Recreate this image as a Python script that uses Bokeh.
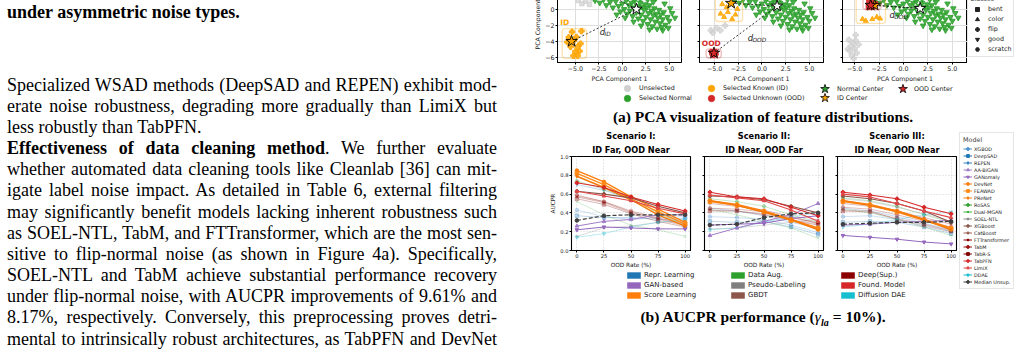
from bokeh.plotting import figure
from bokeh.layouts import row, column
from bokeh.models import (Div, Legend, LegendItem, BoxAnnotation, Title, FixedTicker,
                          CustomJSTickFormatter, PrintfTickFormatter, Range1d)
from bokeh.core.properties import value
from bokeh.embed import file_html
from bokeh.resources import INLINE

SANS = "DejaVu Sans"
SERIF = "Liberation Serif"
INK = "#1a1a1a"
NAN = float("nan")  # legend proxies carry one empty point so their swatches are drawn

# ------------------------------------------------------------------ body text
CAPTION_TAIL = "under asymmetric noise types."
BODY_LINES = [
    "Specialized WSAD methods (DeepSAD and REPEN) exhibit mod-",
    "erate noise robustness, degrading more gradually than LimiX but",
    "less robustly than TabPFN.",
    "<b>Effectiveness of data cleaning method</b>. We further evaluate",
    "whether automated data cleaning tools like Cleanlab [36] can mit-",
    "igate label noise impact. As detailed in Table 6, external filtering",
    "may significantly benefit models lacking inherent robustness such",
    "as SOEL-NTL, TabM, and FTTransformer, which are the most sen-",
    "sitive to flip-normal noise (as shown in Figure 4a). Specifically,",
    "SOEL-NTL and TabM achieve substantial performance recovery",
    "under flip-normal noise, with AUCPR improvements of 9.61% and",
    "8.17%, respectively. Conversely, this preprocessing proves detri-",
    "mental to intrinsically robust architectures, as TabPFN and DevNet",
]
PARAGRAPH_LAST = {2}

# ------------------------------------------------------------------ PCA data
NORMAL_X = [-2.9, -2.4, -2.0, -1.7, -1.3, -1.0, -0.7, -0.4, -0.2, 0.0, 0.2, 0.4, 0.5, 0.7, 0.8, 1.0,
            1.1, 1.2, 1.3, 1.5, 1.6, 1.7, 1.8, 1.9, 2.0, 2.1, 2.2, 2.3, 2.4, 2.5, 2.6, 2.7, 2.8, 2.9,
            3.0, 3.1, 3.2, 3.3, 3.4, 3.5, 3.6, 3.7, 3.8, 3.9, 4.0, 4.1, 4.2, 4.3, 4.4, 4.6, 4.8, 5.0,
            5.3, 5.6, 4.3, 0.3, 0.9, 1.4, 2.2, 2.7, 3.3, -0.5, 0.6, 1.8, 2.4, 3.0, 3.6, 4.5, -1.5,
            -0.9, 0.1, 1.2, 0.3, -0.6, 2.0, 2.9, 5.1, 4.9, 1.9, 0.6]
NORMAL_Y = [1.2, 0.9, 1.3, 0.6, 1.0, 0.3, 1.1, 0.5, -0.2, 0.8, 0.1, 1.2, -0.5, 0.6, -0.1, 0.9,
            -0.8, 0.3, 1.1, -0.3, 0.5, -1.1, 0.2, 0.9, -0.6, 0.4, -1.4, 0.0, 0.7, -0.9, 0.3, -1.8,
            -0.4, 0.6, -1.2, -0.1, -2.1, -0.7, 0.2, -1.5, -0.5, -2.4, -1.0, 0.0, -1.7, -0.6, -2.2,
            -1.2, -0.3, -1.9, -0.9, -1.4, -0.4, -1.0, -2.6, 1.9, 2.3, 1.6, 1.8, 1.3, 1.0, 2.2, 3.0,
            2.7, 3.4, 2.1, 1.5, 0.8, 1.8, 2.6, 3.6, -1.5, -1.0, -0.6, -2.0, -2.5, 0.2, -2.3, 1.4, 1.5]

# Scenario I
S1_UNSEL_X = [-4.7, -4.3, -3.9, -3.5, -4.1, -3.7, -4.5, -3.2, -4.0, -3.6]
S1_UNSEL_Y = [1.2, 0.8, 1.1, 0.7, 1.6, 2.0, 2.3, 1.4, 2.8, 3.1]
S1_ID_X = [-5.35, -4.35, -5.7, -4.9, -4.45, -5.5, -4.75, -5.0, -4.55, -5.2, -4.75, -5.85, -5.15]
S1_ID_Y = [-2.8, -2.7, -3.5, -3.45, -4.3, -4.7, -4.7, -5.3, -5.25, -5.85, -5.85, -4.1, -3.9]
S1_OOD_X = [-2.9, -2.3, -2.6, -2.0, -3.1]
S1_OOD_Y = [2.4, 2.9, 3.3, 2.5, 2.8]
S1_CENTERS = {"normal": (1.5, 0.1), "id": (-5.4, -4.0), "ood": (-2.5, 2.6)}

# Scenario II
S2_UNSEL_X = [-5.4, -4.4, -5.2, -4.8, -3.9, -5.6, -4.6]
S2_UNSEL_Y = [-2.6, -2.6, -2.9, -2.3, -2.0, 2.2, 2.9]
S2_ID_X = [-4.37, -3.6, -2.8, -4.0, -3.15, -3.74, -2.6, -4.2, -3.9, -3.0, -4.3, -2.7]
S2_ID_Y = [-0.48, -0.28, -0.6, -0.9, -1.15, 0.33, 0.12, 0.73, 1.5, 1.9, 2.2, 2.5]
S2_OOD_X = [-5.3, -4.9, -5.1, -4.85, -5.35]
S2_OOD_Y = [-5.6, -5.3, -5.8, -5.65, -5.3]
S2_CENTERS = {"normal": (1.6, 0.5), "id": (-3.25, 0.85), "ood": (-5.07, -5.5)}

# Scenario III
S3_UNSEL_X = [-5.6, -5.2, -4.9, -5.4, -5.0, -5.5, -4.8, -5.3, -5.1, -4.6, -5.7, -4.9]
S3_UNSEL_Y = [-3.8, -4.2, -3.9, -4.6, -4.9, -5.2, -5.5, -5.8, -6.2, -4.4, -5.0, -3.2]
S3_ID_X = [-4.2, -3.87, -3.2, -2.74, -2.4, -3.6, -2.9, -4.3, -3.3]
S3_ID_Y = [-1.17, -1.4, -1.17, -0.9, -1.1, 1.8, 2.3, 2.0, 2.8]
S3_OOD_X = [-3.6, -3.1, -3.3, -2.85, -3.55]
S3_OOD_Y = [0.35, 0.45, 0.9, 0.75, 1.1]
S3_CENTERS = {"normal": (1.7, 0.2), "id": (-2.95, 0.6), "ood": (-3.36, 0.6)}

# ------------------------------------------------------------------ AUCPR data
OOD_RATE = [0, 25, 50, 75, 100]
MODELS = ["XGBOD", "DeepSAD", "REPEN", "AA-BiGAN", "GANomaly", "DevNet", "FEAWAD", "PReNet",
          "RoSAS", "Dual-MGAN", "SOEL-NTL", "XGBoost", "CatBoost", "FTTransformer", "TabM",
          "TabR-S", "TabPFN", "LimiX", "DDAE", "Median Unsup."]
FAMILIES = ["Repr. Learning", "GAN-based", "Score Learning", "Data Aug.", "Pseudo-Labeling",
            "GBDT", "Deep(Sup.)", "Found. Model", "Diffusion DAE"]

S1_AUCPR = {
    "XGBOD": [0.43, 0.36, 0.33, 0.35, 0.36], "DeepSAD": [0.37, 0.35, 0.35, 0.33, 0.34],
    "REPEN": [0.70, 0.64, 0.55, 0.41, 0.31], "AA-BiGAN": [0.26, 0.31, 0.33, 0.38, 0.38],
    "GANomaly": [0.22, 0.25, 0.24, 0.23, 0.23], "DevNet": [0.85, 0.73, 0.57, 0.44, 0.30],
    "FEAWAD": [0.82, 0.70, 0.55, 0.41, 0.28], "PReNet": [0.79, 0.67, 0.54, 0.38, 0.26],
    "RoSAS": [0.74, 0.65, 0.54, 0.39, 0.28], "Dual-MGAN": [0.52, 0.38, 0.27, 0.22, 0.15],
    "SOEL-NTL": [0.15, 0.24, 0.26, 0.30, 0.31], "XGBoost": [0.63, 0.60, 0.56, 0.47, 0.40],
    "CatBoost": [0.58, 0.52, 0.41, 0.33, 0.26], "FTTransformer": [0.57, 0.51, 0.40, 0.34, 0.27],
    "TabM": [0.59, 0.52, 0.42, 0.35, 0.28], "TabR-S": [0.55, 0.49, 0.39, 0.31, 0.25],
    "TabPFN": [0.72, 0.67, 0.57, 0.49, 0.42], "LimiX": [0.63, 0.58, 0.53, 0.45, 0.39],
    "DDAE": [0.14, 0.18, 0.25, 0.30, 0.33], "Median Unsup.": [0.32, 0.37, 0.38, 0.38, 0.38],
}
S2_AUCPR = {
    "XGBOD": [0.36, 0.35, 0.33, 0.27, 0.19], "DeepSAD": [0.31, 0.30, 0.31, 0.25, 0.17],
    "REPEN": [0.45, 0.42, 0.37, 0.30, 0.24], "AA-BiGAN": [0.16, 0.24, 0.31, 0.38, 0.50],
    "GANomaly": [0.27, 0.28, 0.29, 0.34, 0.37], "DevNet": [0.53, 0.49, 0.42, 0.33, 0.24],
    "FEAWAD": [0.52, 0.48, 0.41, 0.32, 0.23], "PReNet": [0.53, 0.48, 0.41, 0.33, 0.22],
    "RoSAS": [0.55, 0.52, 0.47, 0.38, 0.30], "Dual-MGAN": [0.44, 0.38, 0.31, 0.24, 0.13],
    "SOEL-NTL": [0.23, 0.24, 0.27, 0.30, 0.33], "XGBoost": [0.58, 0.57, 0.54, 0.47, 0.40],
    "CatBoost": [0.43, 0.42, 0.39, 0.33, 0.28], "FTTransformer": [0.50, 0.47, 0.43, 0.36, 0.29],
    "TabM": [0.45, 0.44, 0.41, 0.35, 0.29], "TabR-S": [0.42, 0.42, 0.38, 0.32, 0.27],
    "TabPFN": [0.62, 0.57, 0.55, 0.46, 0.37], "LimiX": [0.59, 0.56, 0.53, 0.43, 0.31],
    "DDAE": [0.22, 0.24, 0.30, 0.36, 0.40], "Median Unsup.": [0.27, 0.28, 0.35, 0.39, 0.40],
}
S3_AUCPR = {
    "XGBOD": [0.36, 0.37, 0.33, 0.27, 0.20], "DeepSAD": [0.30, 0.31, 0.30, 0.25, 0.18],
    "REPEN": [0.45, 0.42, 0.36, 0.29, 0.22], "AA-BiGAN": [0.27, 0.28, 0.30, 0.31, 0.32],
    "GANomaly": [0.16, 0.14, 0.12, 0.09, 0.07], "DevNet": [0.53, 0.49, 0.42, 0.33, 0.24],
    "FEAWAD": [0.52, 0.48, 0.41, 0.32, 0.23], "PReNet": [0.53, 0.48, 0.42, 0.33, 0.22],
    "RoSAS": [0.56, 0.53, 0.47, 0.38, 0.30], "Dual-MGAN": [0.44, 0.40, 0.33, 0.25, 0.16],
    "SOEL-NTL": [0.55, 0.52, 0.46, 0.39, 0.31], "XGBoost": [0.58, 0.55, 0.50, 0.42, 0.30],
    "CatBoost": [0.43, 0.42, 0.33, 0.26, 0.20], "FTTransformer": [0.50, 0.47, 0.42, 0.35, 0.28],
    "TabM": [0.46, 0.44, 0.38, 0.31, 0.25], "TabR-S": [0.42, 0.41, 0.34, 0.28, 0.21],
    "TabPFN": [0.62, 0.59, 0.55, 0.46, 0.39], "LimiX": [0.60, 0.57, 0.50, 0.42, 0.35],
    "DDAE": [0.25, 0.28, 0.33, 0.38, 0.41], "Median Unsup.": [0.28, 0.29, 0.30, 0.30, 0.31],
}

# ------------------------------------------------------------------ styles
FAMILY_COLOR = {"Repr. Learning": "#1f77b4", "GAN-based": "#9467bd", "Score Learning": "#ff7f0e",
                "Data Aug.": "#2ca02c", "Pseudo-Labeling": "#7f7f7f", "GBDT": "#8c564b",
                "Deep(Sup.)": "#8b0000", "Found. Model": "#d62728", "Diffusion DAE": "#17becf"}
# color, marker, alpha, width
MODEL_STYLE = {
    "XGBOD": ("#4a90d0", "circle", 0.28, 1.0), "DeepSAD": ("#1f77b4", "square", 0.28, 1.0),
    "REPEN": ("#2f7ec0", "diamond", 0.28, 1.0), "AA-BiGAN": ("#a07cc8", "triangle", 1.0, 1.0),
    "GANomaly": ("#9467bd", "inverted_triangle", 1.0, 1.0),
    "DevNet": ("#ff7f0e", "circle", 1.0, 1.4), "FEAWAD": ("#ff8c1a", "square", 1.0, 1.4),
    "PReNet": ("#f57a0a", "diamond", 1.0, 1.4), "RoSAS": ("#2ca02c", "plus", 0.25, 1.0),
    "Dual-MGAN": ("#3cb043", "x", 0.25, 1.0), "SOEL-NTL": ("#8a8a8a", "asterisk", 0.3, 1.0),
    "XGBoost": ("#8c564b", "hex", 1.0, 1.1), "CatBoost": ("#9c6356", "star", 0.3, 1.0),
    "FTTransformer": ("#8b0000", "asterisk", 0.28, 1.0), "TabM": ("#9b1010", "circle", 0.28, 1.0),
    "TabR-S": ("#800000", "square", 0.28, 1.0), "TabPFN": ("#d62728", "plus", 1.0, 1.1),
    "LimiX": ("#e04848", "triangle", 1.0, 1.1), "DDAE": ("#17becf", "inverted_triangle", 0.3, 1.0),
    "Median Unsup.": ("#404040", "circle", 1.0, 1.2),
}
NORMAL_C, ID_C, OOD_C, UNSEL_C = "#2ca02c", "#ffa500", "#d62728", "#cfcfcf"


def minus(digits):
    return CustomJSTickFormatter(code="return tick.toFixed(%d).replace('-', '\u2212');" % digits)


def blank():
    return CustomJSTickFormatter(code="return '';")


def style_axes(p, tick_size, label_size):
    for ax in p.xaxis + p.yaxis:
        ax.major_tick_out = 2
        ax.major_tick_in = 0
        ax.minor_tick_out = 0
        ax.minor_tick_in = 0
        ax.axis_line_color = "black"
        ax.major_tick_line_color = "black"
        ax.major_label_text_font = SANS
        ax.major_label_text_font_size = tick_size
        ax.major_label_text_color = INK
        ax.major_label_standoff = 1
        ax.axis_label_text_font = SANS
        ax.axis_label_text_font_size = label_size
        ax.axis_label_text_font_style = "normal"
        ax.axis_label_text_color = INK
        ax.axis_label_standoff = 1


def key_figure(width, height):
    return figure(width=width, height=height, x_range=Range1d(0, 1), y_range=Range1d(0, 1),
                  x_axis_type=None, y_axis_type=None, min_border_left=0, min_border_right=0,
                  min_border_top=0, min_border_bottom=0, outline_line_color=None,
                  output_backend="svg", toolbar_location=None, title=None, margin=0)


# ------------------------------------------------------------------ PCA panels
PCA_Y_RANGE = (-6.7, 3.75)
PANELS = [
    dict(xr=(-6.9, 6.3), unsel=(S1_UNSEL_X, S1_UNSEL_Y, "square"), ids=(S1_ID_X, S1_ID_Y, "plus"),
         ood=(S1_OOD_X, S1_OOD_Y, "hex"), centers=S1_CENTERS, dist="ID", dist_at=(-2.4, -2.8),
         tags=["ID"]),
    dict(xr=(-6.6, 6.5), unsel=(S2_UNSEL_X, S2_UNSEL_Y, "plus"), ids=(S2_ID_X, S2_ID_Y, "triangle"),
         ood=(S2_OOD_X, S2_OOD_Y, "hex"), centers=S2_CENTERS, dist="OOD", dist_at=(-1.5, -3.6),
         tags=["OOD"]),
    dict(xr=(-6.25, 6.55), unsel=(S3_UNSEL_X, S3_UNSEL_Y, "plus"), ids=(S3_ID_X, S3_ID_Y, "triangle"),
         ood=(S3_OOD_X, S3_OOD_Y, "square"), centers=S3_CENTERS, dist="OOD", dist_at=(-1.45, -0.6),
         tags=[]),
]
PCA_GEOM = [(185, 52, 9), (142, 9, 9), (135, 10, 0)]
MARK_SIZE = {"plus": 5.5, "triangle": 5.0, "square": 4.5, "hex": 5.0, "inverted_triangle": 5.5}
BOX_PAD = (0.55, 0.32)

pca_figs = []
for i, (spec, (w, bl, br)) in enumerate(zip(PANELS, PCA_GEOM)):
    p = figure(width=w, height=104, x_range=Range1d(*spec["xr"]), y_range=Range1d(*PCA_Y_RANGE),
               min_border_left=bl, min_border_right=br, min_border_top=0, min_border_bottom=18,
               output_backend="svg", toolbar_location=None, title=None, margin=0)
    p.outline_line_color = "black"
    p.outline_line_width = 1
    p.grid.grid_line_color = "#dedede"
    p.xaxis.ticker = FixedTicker(ticks=[-5, -2.5, 0, 2.5, 5])
    p.yaxis.ticker = FixedTicker(ticks=[-6, -4, -2, 0])
    p.xgrid.ticker = FixedTicker(ticks=[-5, -2.5, 0, 2.5, 5])
    p.ygrid.ticker = FixedTicker(ticks=[-6, -4, -2, 0, 2])
    p.xaxis.formatter = minus(1)
    p.xaxis.axis_label = "PCA Component 1"
    if i == 0:
        p.yaxis.formatter = minus(0)
        p.yaxis.axis_label = "PCA Component 2"
    else:
        p.yaxis.formatter = blank()
    style_axes(p, "6.3px", "6.2px")

    ux, uy, um = spec["unsel"]
    p.scatter(ux, uy, marker=um, size=MARK_SIZE[um], color=UNSEL_C, alpha=0.7)
    p.scatter(NORMAL_X, NORMAL_Y, marker="inverted_triangle", size=5.5, color=NORMAL_C, alpha=0.85)
    ix, iy, im = spec["ids"]
    p.scatter(ix, iy, marker=im, size=MARK_SIZE[im], color=ID_C, alpha=0.85)
    ox, oy, om = spec["ood"]
    p.scatter(ox, oy, marker=om, size=MARK_SIZE[om], color=OOD_C, alpha=0.9)

    # selection boxes around the known / unknown anomaly groups
    for xs, ys, col, tag in ((ix, iy, ID_C, "ID"), (ox, oy, OOD_C, "OOD")):
        left, right = min(xs) - BOX_PAD[0], max(xs) + BOX_PAD[0]
        bottom, top = min(ys) - BOX_PAD[1], max(ys) + BOX_PAD[1]
        p.add_layout(BoxAnnotation(left=left, right=right, bottom=bottom, top=top, fill_alpha=0,
                                   line_color=col, line_width=1.4, border_radius=3))
        if tag in spec["tags"]:
            p.text(x=[left - 0.05 * len(tag) ** 2], y=[top + 0.15], text=[tag], text_color=col,
                   text_font=value(SANS), text_font_size=value("7.5px"), text_font_style="bold",
                   text_baseline="bottom", text_align="left")

    c = spec["centers"]
    for key in ("id", "ood"):
        p.segment(x0=[c[key][0]], y0=[c[key][1]], x1=[c["normal"][0]], y1=[c["normal"][1]],
                  line_color="#222222", line_width=0.9, line_dash="2 2")
    p.scatter([c["normal"][0]], [c["normal"][1]], marker="star", size=12, fill_color="white",
              line_color="black", line_width=0.9)
    p.scatter([c["id"][0]], [c["id"][1]], marker="star", size=12, fill_color=ID_C,
              line_color="black", line_width=0.9)
    p.scatter([c["ood"][0]], [c["ood"][1]], marker="star", size=12, fill_color=OOD_C,
              line_color="black", line_width=0.9)

    dx, dy = spec["dist_at"]
    p.text(x=[dx], y=[dy], text=["d"], text_color=INK, text_font=value(SANS),
           text_font_size=value("8.5px"), text_font_style="italic", text_baseline="middle")
    p.text(x=[dx + 0.5], y=[dy - 0.25], text=[spec["dist"]], text_color=INK, text_font=value(SANS),
           text_font_size=value("5.8px"), text_font_style="italic", text_baseline="middle")
    pca_figs.append(p)

# class-shape key beside the last panel
CLASS_NAMES = ["bent", "color", "flip", "good", "scratch"]
CLASS_MARKS = ["square", "triangle", "plus", "inverted_triangle", "hex"]
cls_fig = key_figure(54, 104)
cls_items = [LegendItem(label=n, renderers=[cls_fig.scatter(x=[NAN], y=[NAN], marker=m,
                                                            color="#222222")])
             for n, m in zip(CLASS_NAMES, CLASS_MARKS)]
cls_fig.add_layout(Legend(items=cls_items, title="Classes", location=(0, 5), padding=2, margin=0,
                          spacing=0, glyph_width=14, glyph_height=10, label_height=10,
                          label_standoff=4, label_text_font=SANS, label_text_font_size="6.4px",
                          label_text_color=INK, title_text_font=SANS,
                          title_text_font_size="6.4px", title_text_font_style="normal",
                          title_standoff=1, border_line_color="#cccccc",
                          background_fill_color="white", background_fill_alpha=0.85))

pca_row = row(*pca_figs, cls_fig, spacing=0, margin=(-20, 0, 0, 0))

# ------------------------------------------------------------------ PCA key strip
key_fig = key_figure(516, 22)
KEY_ENTRIES = [("Unselected", "circle", UNSEL_C, 0, 0), ("Selected Normal", "circle", NORMAL_C, 0, 1),
               ("Selected Known (ID)", "circle", ID_C, 1, 0),
               ("Selected Unknown (OOD)", "circle", OOD_C, 1, 1),
               ("Normal Center", "star", NORMAL_C, 2, 0), ("ID Center", "star", ID_C, 2, 1),
               ("OOD Center", "star", OOD_C, 3, 0)]
KEY_COL_X = [122, 206, 320, 398]
KEY_TEXT_X = [134, 218, 332, 409]
KEY_ROW_Y = [18, 8]
for label, mk, col, ci, ri in KEY_ENTRIES:
    g = 16 if mk == "circle" else 23
    r = key_fig.scatter(x=[NAN], y=[NAN], marker=mk, fill_color=col,
                        line_color="black" if mk == "star" else col, line_width=0.8)
    vx = int(KEY_COL_X[ci] - g / 2)
    key_fig.add_layout(Legend(items=[LegendItem(label=label, renderers=[r])],
                              location=(vx, int(KEY_ROW_Y[ri] - g / 2)), padding=0, margin=0,
                              spacing=0, glyph_width=g, glyph_height=g, label_height=g,
                              label_standoff=int(round(KEY_TEXT_X[ci] - (vx + g))),
                              label_text_font=SANS, label_text_font_size="6.4px",
                              label_text_color=INK, border_line_color=None,
                              background_fill_alpha=0))

cap_style = ("font-family:'Liberation Serif';font-weight:bold;font-size:15.5px;color:#000;"
             "white-space:nowrap;text-align:center;")
caption_a = Div(text=f'<div style="{cap_style}width:516px;height:22px;line-height:22px;">'
                     '(a) PCA visualization of feature distributions.</div>',
                width=516, height=22, margin=0)

# ------------------------------------------------------------------ AUCPR panels
DRAW_ORDER = [m for m in MODELS if MODEL_STYLE[m][2] < 1] + \
             [m for m in MODELS if MODEL_STYLE[m][2] >= 1 and m != "Median Unsup."] + ["Median Unsup."]
SCENARIOS = [(S1_AUCPR, "Scenario I:", "ID Far, OOD Near"),
             (S2_AUCPR, "Scenario II:", "ID Near, OOD Far"),
             (S3_AUCPR, "Scenario III:", "ID Near, OOD Near")]
LINE_GEOM = [(192, 66, 7), (133, 7, 7), (128, 7, 2)]

line_figs = []
for i, ((vals, t1, t2), (w, bl, br)) in enumerate(zip(SCENARIOS, LINE_GEOM)):
    p = figure(width=w, height=142, x_range=Range1d(-5, 105), y_range=Range1d(0, 1),
               min_border_left=bl, min_border_right=br, min_border_top=26, min_border_bottom=16,
               output_backend="svg", toolbar_location=None, title=None, margin=0)
    p.add_layout(Title(text=t2, align="center", text_font=SANS, text_font_size="8.2px",
                       text_font_style="bold", text_color="black", standoff=3), "above")
    p.add_layout(Title(text=t1, align="center", text_font=SANS, text_font_size="8.2px",
                       text_font_style="bold", text_color="black", standoff=1), "above")
    p.outline_line_color = "black"
    p.outline_line_width = 1.1
    p.xaxis.ticker = FixedTicker(ticks=OOD_RATE)
    p.xgrid.ticker = FixedTicker(ticks=OOD_RATE)
    yt = [0.0, 0.2, 0.4, 0.6, 0.8, 1.0]
    p.yaxis.ticker = FixedTicker(ticks=yt)
    p.ygrid.ticker = FixedTicker(ticks=yt)
    p.grid.grid_line_color = "#c8c8c8"
    p.grid.grid_line_dash = "1 2"
    p.grid.grid_line_width = 0.8
    p.xaxis.axis_label = "OOD Rate (%)"
    if i == 0:
        p.yaxis.formatter = PrintfTickFormatter(format="%.1f")
        p.yaxis.axis_label = "AUCPR"
    else:
        p.yaxis.formatter = blank()
    style_axes(p, "5.2px", "5.8px")
    for m in DRAW_ORDER:
        col, mk, a, lw = MODEL_STYLE[m]
        dash = "4 2" if m == "Median Unsup." else "solid"
        p.line(OOD_RATE, vals[m], color=col, alpha=a, line_width=lw, line_dash=dash)
        p.scatter(OOD_RATE, vals[m], marker=mk, size=3.6, color=col, alpha=a)
    line_figs.append(p)

# family key under the AUCPR panels
fam_fig = key_figure(453, 32)
FAM_COL_X = [120, 224, 334]
for ci in range(3):
    items = []
    for fam in FAMILIES[ci * 3:(ci + 1) * 3]:
        r = fam_fig.quad(left=[NAN], right=[NAN], top=[NAN], bottom=[NAN],
                         fill_color=FAMILY_COLOR[fam], line_color=None)
        items.append(LegendItem(label=fam, renderers=[r]))
    fam_fig.add_layout(Legend(items=items, location=(FAM_COL_X[ci], 3), padding=0, margin=0,
                              spacing=2, glyph_width=17, glyph_height=8, label_height=8,
                              label_standoff=2, label_text_font=SANS, label_text_font_size="7px",
                              label_text_color=INK, border_line_color=None,
                              background_fill_alpha=0))

# model key on the right
mod_fig = key_figure(63, 174)
mod_items = []
for m in MODELS:
    col, mk, a, lw = MODEL_STYLE[m]
    dash = "4 2" if m == "Median Unsup." else "solid"
    r1 = mod_fig.line(x=[NAN], y=[NAN], color=col, line_width=1, line_dash=dash)
    r2 = mod_fig.scatter(x=[NAN], y=[NAN], marker=mk, color=col)
    mod_items.append(LegendItem(label=m, renderers=[r1, r2]))
mod_fig.add_layout(Legend(items=mod_items, title="Model", location=(1, 13), padding=3, margin=0,
                          spacing=0, glyph_width=9, glyph_height=7, label_height=7,
                          label_standoff=2, label_text_font=SANS, label_text_font_size="4.9px",
                          label_text_color=INK, title_text_font=SANS, title_text_font_size="6.4px",
                          title_text_font_style="normal", title_standoff=1,
                          border_line_color="#cccccc", background_fill_color="white",
                          background_fill_alpha=0.85))

caption_b = Div(text=f'<div style="{cap_style}width:491px;height:22px;line-height:22px;'
                     'padding-left:25px;padding-top:4px;">(b) AUCPR performance '
                     '(<i style="font-weight:normal">\u03b3</i><sub style="font-size:10px;">'
                     '<i>la</i></sub><span style="margin:0 4px;">=</span>10%).</div>',
                width=516, height=51, margin=0)

right_col = column(pca_row, key_fig, caption_a,
                   row(column(row(*line_figs, spacing=0), fam_fig, spacing=0), mod_fig, spacing=0),
                   caption_b, spacing=0, margin=0)

# ------------------------------------------------------------------ text column
parts = ['<div style="position:relative;width:505px;height:353px;overflow:hidden;'
         f'font-family:\'{SERIF}\';font-size:18px;color:#000;">']


def text_line(html, y_center, justify=True, bold=False):
    align = "justify" if justify else "left"
    weight = "font-weight:bold;" if bold else ""
    return (f'<div style="position:absolute;left:7px;width:490px;top:{y_center - 11.5:.1f}px;'
            f'height:21px;line-height:21px;white-space:nowrap;text-align:{align};'
            f'text-align-last:{align};{weight}">{html}</div>')


parts.append(text_line(CAPTION_TAIL, 13.3, justify=False, bold=True))
for k, ln in enumerate(BODY_LINES):
    parts.append(text_line(ln, 86 + 21.17 * k, justify=k not in PARAGRAPH_LAST))
parts.append("</div>")
text_div = Div(text="".join(parts), width=505, height=353, margin=0)

root = row(text_div, right_col, spacing=0)
open("out.html", "w").write(file_html(root, INLINE, title="AUCPR under label noise"))
